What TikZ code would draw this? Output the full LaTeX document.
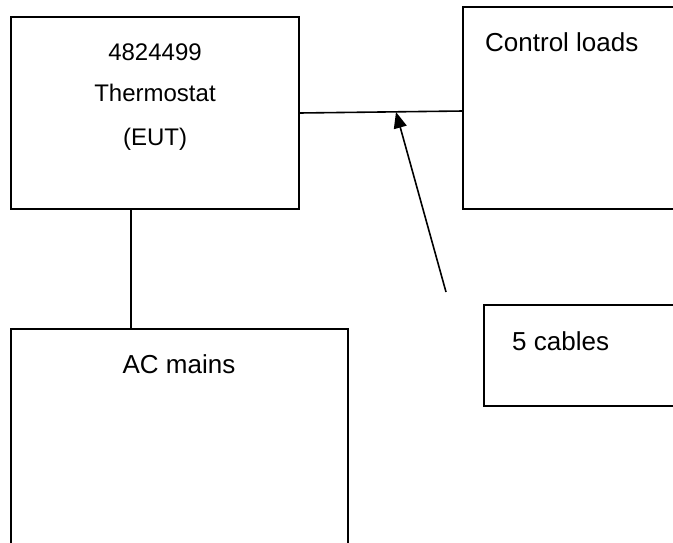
\documentclass[tikz,border=0pt]{standalone}
\usepackage{fontspec}
\setmainfont{Liberation Sans}
\usetikzlibrary{arrows.meta}
\begin{document}
\begin{tikzpicture}[x=1pt,y=-1pt,
  box/.style={draw, line width=1.6pt, inner sep=0pt, outer sep=0pt},
  big/.style={font=\fontsize{26}{31}\selectfont, inner sep=0pt},
  small/.style={font=\fontsize{24}{29}\selectfont, inner sep=0pt},
  wire/.style={line width=1.6pt},
  pointer/.style={line width=1.6pt, -{Triangle[length=16pt,width=13pt]}}]
\clip (0,0) rectangle (673,542);
% boxes
\node[box, minimum width=288pt, minimum height=192pt] (eut) at (155,113) {};
\node[box, minimum width=237pt, minimum height=202pt] (ctl) at (581.5,108) {};
\node[box, minimum width=337pt, minimum height=271pt] (ac) at (179.5,464.5) {};
\node[box, minimum width=216pt, minimum height=101pt] (cab) at (592,355.5) {};
% texts
\node[small, anchor=base] (t1) at (155,60) {4824499};
\node[small, anchor=base] (t2) at (155,101) {Thermostat};
\node[small, anchor=base] (t3) at (155,145) {(EUT)};
\node[big, anchor=base west] (tc) at (485,51) {Control loads};
\node[big, anchor=base] (ta) at (179,373) {AC mains};
\node[big, anchor=base west] (tb) at (512,350.5) {5 cables};
% connectors
\draw[wire] (eut.east) -- ([yshift=-3pt]ctl.west);
\draw[wire] ([xshift=-24pt]eut.south) -- ([xshift=-24pt]eut.south |- ac.north);
\coordinate (tail) at (446,292);
\coordinate (hit) at (396,112);
\draw[pointer] (tail) -- (hit);
\end{tikzpicture}
\end{document}
